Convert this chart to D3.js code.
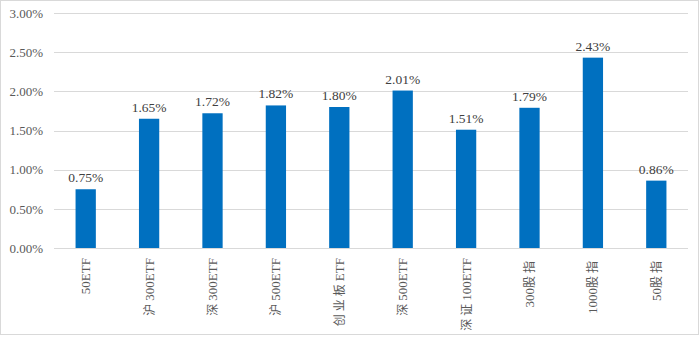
<!DOCTYPE html>
<html>
<head>
<meta charset="utf-8">
<script src="https://cdn.jsdelivr.net/npm/d3@7"></script>
<style>
  html, body { margin: 0; padding: 0; background: #fff; }
  svg { display: block; }
</style>
</head>
<body>
<svg id="chart" width="700" height="337"></svg>
<script>
// Categories and values (percent)
const categories = ["50ETF", "沪300ETF", "深300ETF", "沪500ETF", "创业板ETF", "深500ETF", "深证100ETF", "300股指", "1000股指", "50股指"];
const values = [0.75, 1.65, 1.72, 1.82, 1.80, 2.01, 1.51, 1.79, 2.43, 0.86];
const yTicks = [0, 0.5, 1.0, 1.5, 2.0, 2.5, 3.0];

const W = 700, H = 337;
const margin = { top: 13, right: 12, bottom: 89, left: 54 };
const FONT = '"Liberation Serif", "Times New Roman", "Noto Sans CJK SC", serif';
const svg = d3.select("#chart");

// outer frame
svg.append("rect")
  .attr("x", 0.5).attr("y", 0.5)
  .attr("width", W - 2).attr("height", H - 3)
  .attr("fill", "#fff").attr("stroke", "#d9d9d9");

const x = d3.scaleBand()
  .domain(categories)
  .range([margin.left, W - margin.right])
  .paddingInner(0.68).paddingOuter(0.34);

const y = d3.scaleLinear()
  .domain([0, 3])
  .range([H - margin.bottom, margin.top]);

// horizontal gridlines
svg.append("g")
  .selectAll("line")
  .data(yTicks)
  .join("line")
  .attr("x1", margin.left).attr("x2", W - margin.right)
  .attr("y1", d => Math.round(y(d)) + 0.5).attr("y2", d => Math.round(y(d)) + 0.5)
  .attr("stroke", "#d9d9d9").attr("stroke-width", 1);

// y axis labels
const yAxis = d3.axisLeft(y).tickValues(yTicks).tickSize(0).tickPadding(11)
  .tickFormat(d => d.toFixed(2) + "%");
const gy = svg.append("g").attr("transform", `translate(${margin.left},0)`).call(yAxis)
  .attr("font-family", FONT).attr("font-size", 13);
gy.select(".domain").remove();
gy.selectAll("text").attr("fill", "#595959");

// bars
svg.append("g")
  .selectAll("rect")
  .data(values)
  .join("rect")
  .attr("x", (d, i) => x(categories[i]))
  .attr("width", x.bandwidth())
  .attr("y", d => y(d))
  .attr("height", d => y(0) - y(d))
  .attr("fill", "#0070c0");

// value labels
svg.append("g")
  .attr("font-family", FONT).attr("font-size", 13.5)
  .selectAll("text")
  .data(values)
  .join("text")
  .attr("x", (d, i) => x(categories[i]) + x.bandwidth() / 2)
  .attr("y", d => y(d) - 7)
  .attr("text-anchor", "middle")
  .attr("fill", "#404040")
  .text(d => d.toFixed(2) + "%");

// category labels, rotated; CJK characters get a little extra spacing
const xAxis = d3.axisBottom(x).tickSize(0).tickPadding(0).tickFormat(() => "");
const gx = svg.append("g").attr("transform", `translate(0,${y(0)})`).call(xAxis)
  .attr("font-family", FONT).attr("font-size", 13);
gx.select(".domain").remove();
gx.selectAll("text")
  .attr("transform", "translate(0,10) rotate(-90)")
  .attr("x", 0).attr("y", 0).attr("dy", "0.35em")
  .attr("text-anchor", "end")
  .attr("fill", "#595959")
  .each(function (d) {
    const t = d3.select(this);
    const parts = d.match(/[\u4e00-\u9fff]+|[^\u4e00-\u9fff]+/g);
    parts.forEach(p => {
      const cjk = /[\u4e00-\u9fff]/.test(p);
      t.append("tspan")
        .attr("font-size", cjk ? 12 : 13)
        .style("letter-spacing", cjk ? "3px" : "0px")
        .text(p);
    });
  });
</script>
</body>
</html>
